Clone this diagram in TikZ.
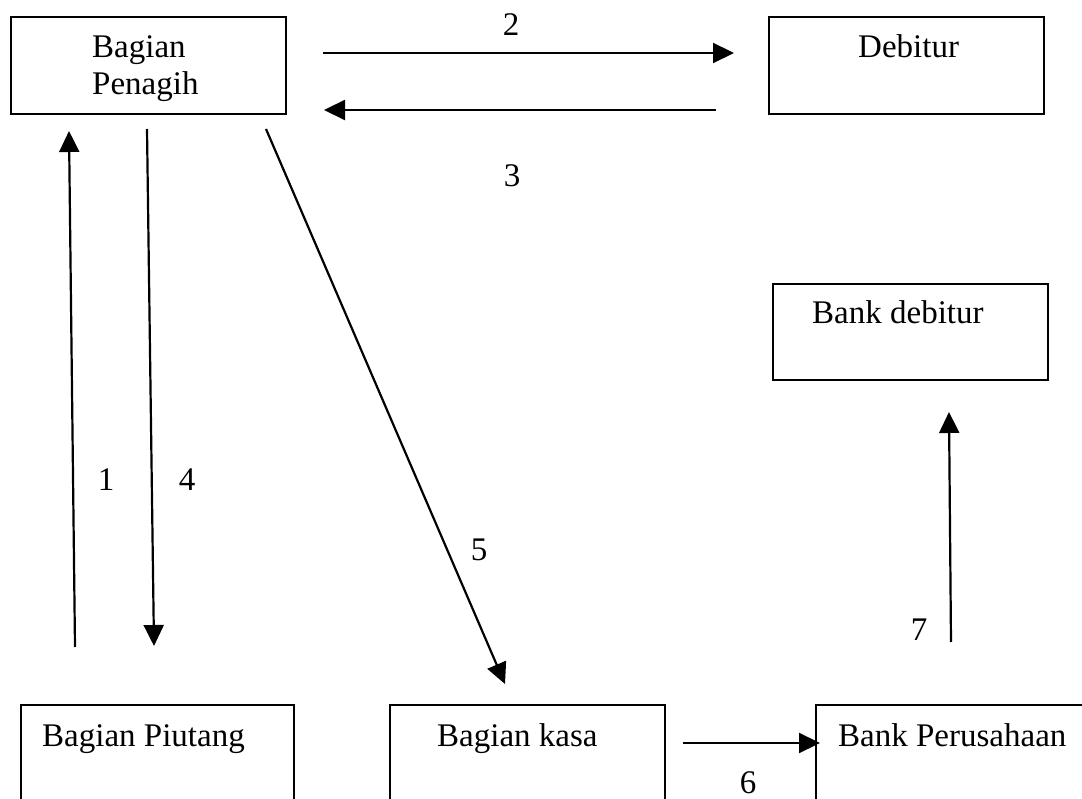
\documentclass[tikz,border=0pt]{standalone}
\usepackage{fontspec}
\setmainfont{Liberation Serif}
\usetikzlibrary{arrows.meta}
\begin{document}
\begin{tikzpicture}[x=1pt,y=-1pt,
  box/.style={draw,line width=2pt,rectangle,minimum width=#1,anchor=north west,inner sep=0pt},
  box/.default=275,
  lbl/.style={font=\fontsize{33}{37}\selectfont,anchor=base west,inner sep=0pt},
  num/.style={font=\fontsize{33}{37}\selectfont,anchor=base,inner sep=0pt},
  conn/.style={line width=2.2pt,-{Triangle[length=21pt,width=20pt]}}]
\useasboundingbox (0,0) rectangle (1082,799);
\clip (0,0) rectangle (1082,799);
% boxes
\node[box, minimum height=97pt] (pen) at (10,16) {};
\node[box, minimum height=97pt] (deb) at (768,16) {};
\node[box, minimum height=96pt] (bdeb) at (772,283) {};
\node[box=273, minimum height=140pt] (piu) at (20,704) {};
\node[box, minimum height=140pt] (kasa) at (389,704) {};
\node[box=290, minimum height=140pt] (bper) at (815,704) {};
% texts
\node[lbl] (tpen1) at (92,58) {Bagian};
\node[lbl] (tpen2) at (92,95) {Penagih};
\node[lbl] (tdeb) at (858,58) {Debitur};
\node[lbl] (tbdeb) at (812,324) {Bank debitur};
\node[lbl] (tpiu) at (42,746) {Bagian Piutang};
\node[lbl] (tkasa) at (437,746) {Bagian kasa};
\node[lbl] (tbper) at (838,746) {Bank Perusahaan};
% connector endpoints
\coordinate (a2s) at (323,53);  \coordinate (a2e) at (734,53);
\coordinate (a3s) at (716,110); \coordinate (a3e) at (324,110);
\coordinate (a1s) at (75,647);  \coordinate (a1e) at (69,131);
\coordinate (a4s) at (147,129); \coordinate (a4e) at (154,646);
\coordinate (a5s) at (266,129); \coordinate (a5e) at (505,684);
\coordinate (a6s) at (683,743); \coordinate (a6e) at (820,743);
\coordinate (a7s) at (951,642); \coordinate (a7e) at (949,412);
\draw[conn] (a2s) -- (a2e);
\draw[conn] (a3s) -- (a3e);
\draw[conn] (a1s) -- (a1e);
\draw[conn] (a4s) -- (a4e);
\draw[conn] (a5s) -- (a5e);
\draw[conn] (a6s) -- (a6e);
\draw[conn] (a7s) -- (a7e);
% numbers
\node[num] (n2) at (511,36) {2};
\node[num] (n3) at (512,187) {3};
\node[num] (n1) at (106,490) {1};
\node[num] (n4) at (187,490) {4};
\node[num] (n5) at (479,560) {5};
\node[num] (n6) at (748,793) {6};
\node[num] (n7) at (919,640) {7};
\end{tikzpicture}
\end{document}
